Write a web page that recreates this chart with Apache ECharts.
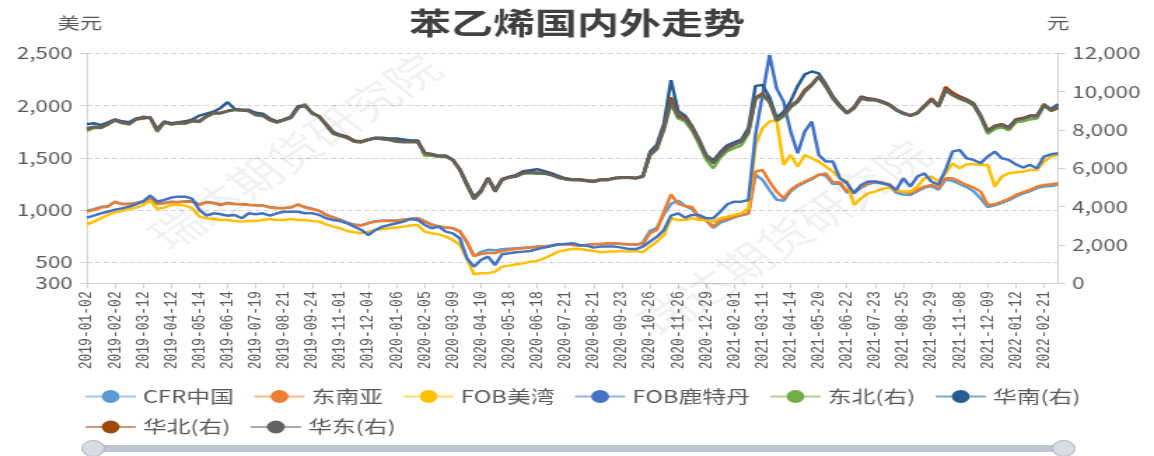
<!DOCTYPE html>
<html>
<head>
<meta charset="utf-8">
<script src="https://cdn.jsdelivr.net/npm/echarts@6.0.0/dist/echarts.min.js"></script>
<style>
    html, body {margin: 0; padding: 0; overflow: hidden; background: #fff;}
    /* the reference picture is stretched sideways, so draw narrow and widen */
    #chart {width: 824px; height: 456px; transform: scaleX(1.4005); transform-origin: 0 0;}
</style>
</head>
<body>
<div id="chart"></div>
<script>
const dates = [
    '2019-01-02', '2019-01-09', '2019-01-16', '2019-01-24', '2019-02-02', '2019-02-19', '2019-02-26', '2019-03-05',
    '2019-03-12', '2019-03-19', '2019-03-27', '2019-04-04', '2019-04-12', '2019-04-19', '2019-04-26', '2019-05-07',
    '2019-05-14', '2019-05-21', '2019-05-29', '2019-06-06', '2019-06-14', '2019-06-24', '2019-07-03', '2019-07-11',
    '2019-07-19', '2019-07-29', '2019-08-06', '2019-08-13', '2019-08-21', '2019-08-29', '2019-09-06', '2019-09-16',
    '2019-09-24', '2019-10-10', '2019-10-17', '2019-10-25', '2019-11-01', '2019-11-11', '2019-11-19', '2019-11-27',
    '2019-12-04', '2019-12-12', '2019-12-20', '2019-12-30', '2020-01-06', '2020-01-14', '2020-01-21', '2020-01-29',
    '2020-02-05', '2020-02-13', '2020-02-21', '2020-03-02', '2020-03-09', '2020-03-17', '2020-03-25', '2020-04-02',
    '2020-04-10', '2020-04-20', '2020-04-28', '2020-05-08', '2020-05-18', '2020-05-26', '2020-06-03', '2020-06-11',
    '2020-06-18', '2020-06-29', '2020-07-07', '2020-07-14', '2020-07-21', '2020-07-29', '2020-08-06', '2020-08-13',
    '2020-08-21', '2020-08-31', '2020-09-08', '2020-09-15', '2020-09-23', '2020-10-09', '2020-10-15', '2020-10-20',
    '2020-10-26', '2020-11-03', '2020-11-11', '2020-11-18', '2020-11-26', '2020-12-04', '2020-12-14', '2020-12-21',
    '2020-12-29', '2021-01-07', '2021-01-15', '2021-01-25', '2021-02-01', '2021-02-09', '2021-02-22', '2021-03-02',
    '2021-03-11', '2021-03-19', '2021-03-29', '2021-04-06', '2021-04-14', '2021-04-22', '2021-04-30', '2021-05-12',
    '2021-05-20', '2021-05-28', '2021-06-07', '2021-06-15', '2021-06-22', '2021-06-30', '2021-07-08', '2021-07-15',
    '2021-07-23', '2021-08-02', '2021-08-10', '2021-08-17', '2021-08-25', '2021-09-02', '2021-09-10', '2021-09-22',
    '2021-09-29', '2021-10-13', '2021-10-21', '2021-10-29', '2021-11-08', '2021-11-16', '2021-11-24', '2021-12-02',
    '2021-12-09', '2021-12-17', '2021-12-27', '2022-01-05', '2022-01-12', '2022-01-20', '2022-01-28', '2022-02-11',
    '2022-02-21', '2022-02-25', '2022-03-03'
];

// 美元/吨 (left axis)
const cfrChina = [
    995, 1010, 1030, 1040, 1075, 1060, 1062, 1070, 1085, 1100,
    1060, 1070, 1080, 1078, 1085, 1085, 1055, 1078, 1070, 1055,
    1070, 1060, 1058, 1052, 1048, 1045, 1030, 1022, 1020, 1028,
    1050, 1030, 1015, 995, 958, 932, 910, 880, 862, 856,
    878, 893, 900, 900, 900, 910, 918, 925, 895, 862,
    845, 835, 828, 800, 690, 560, 600, 620, 615, 625,
    630, 635, 640, 645, 652, 655, 662, 672, 675, 670,
    662, 668, 675, 675, 680, 680, 676, 670, 668, 690,
    800, 830, 960, 1060, 1090, 1040, 1010, 930, 900, 830,
    880, 905, 930, 950, 965, 1340, 1290, 1190, 1100, 1090,
    1180, 1230, 1265, 1295, 1340, 1330, 1250, 1255, 1170, 1165,
    1215, 1250, 1265, 1255, 1235, 1165, 1150, 1145, 1180, 1215,
    1230, 1195, 1290, 1280, 1250, 1220, 1180, 1110, 1030, 1045,
    1070, 1095, 1130, 1160, 1180, 1210, 1225, 1230, 1245
];
const southeastAsia = [
    985, 1001, 1024, 1033, 1081, 1056, 1056, 1065, 1081, 1107,
    1056, 1065, 1075, 1075, 1081, 1081, 1049, 1075, 1065, 1049,
    1065, 1056, 1056, 1049, 1043, 1043, 1024, 1017, 1017, 1024,
    1056, 1024, 1011, 992, 954, 928, 906, 874, 858, 852,
    874, 890, 896, 896, 896, 906, 915, 922, 890, 858,
    842, 833, 826, 794, 699, 560, 580, 590, 590, 609,
    619, 628, 635, 641, 651, 651, 660, 673, 673, 667,
    660, 667, 673, 673, 683, 683, 679, 673, 673, 673,
    778, 810, 986, 1150, 1060, 1040, 1030, 930, 906, 842,
    906, 915, 938, 954, 970, 1368, 1384, 1273, 1177, 1113,
    1193, 1241, 1273, 1305, 1336, 1352, 1266, 1266, 1177, 1177,
    1225, 1257, 1273, 1266, 1247, 1177, 1177, 1161, 1193, 1225,
    1241, 1209, 1305, 1305, 1273, 1241, 1215, 1177, 1049, 1056,
    1081, 1107, 1145, 1171, 1193, 1225, 1241, 1247, 1257
];
const fobUsGulf = [
    864, 890, 922, 954, 979, 992, 1011, 1024, 1049, 1090,
    1011, 1024, 1049, 1049, 1043, 1017, 938, 922, 915, 906,
    906, 896, 890, 896, 896, 906, 915, 906, 906, 915,
    906, 906, 896, 890, 864, 842, 826, 801, 788, 778,
    794, 810, 820, 826, 833, 842, 852, 858, 794, 778,
    769, 746, 715, 667, 539, 386, 396, 396, 412, 459,
    469, 482, 491, 507, 514, 539, 571, 603, 619, 628,
    628, 619, 609, 597, 603, 603, 609, 603, 609, 597,
    651, 699, 762, 922, 906, 906, 922, 906, 906, 890,
    922, 938, 954, 970, 1017, 1623, 1783, 1847, 1862, 1432,
    1528, 1416, 1528, 1496, 1464, 1416, 1368, 1305, 1273, 1049,
    1113, 1161, 1177, 1202, 1215, 1193, 1177, 1177, 1225, 1305,
    1320, 1273, 1352, 1448, 1400, 1438, 1438, 1432, 1432, 1225,
    1320, 1352, 1362, 1368, 1384, 1384, 1464, 1512, 1528
];
const fobRotterdam = [
    928, 947, 970, 985, 1005, 1017, 1033, 1056, 1081, 1140,
    1081, 1097, 1120, 1129, 1129, 1107, 1001, 947, 970, 960,
    947, 954, 922, 970, 960, 970, 947, 970, 985, 985,
    985, 970, 970, 954, 922, 906, 896, 874, 842, 810,
    762, 810, 842, 858, 874, 890, 915, 906, 858, 826,
    842, 794, 778, 730, 539, 459, 523, 555, 475, 577,
    587, 597, 603, 609, 628, 641, 657, 673, 676, 683,
    667, 660, 641, 651, 651, 651, 641, 628, 628, 651,
    699, 746, 810, 947, 970, 928, 954, 954, 922, 922,
    985, 1056, 1081, 1081, 1097, 1719, 2102, 2484, 2165, 2038,
    1751, 1544, 1751, 1847, 1528, 1464, 1464, 1305, 1257, 1161,
    1241, 1273, 1273, 1257, 1241, 1193, 1305, 1225, 1320, 1352,
    1273, 1241, 1384, 1560, 1576, 1496, 1480, 1448, 1512, 1560,
    1496, 1480, 1438, 1407, 1432, 1400, 1512, 1534, 1544
];

// 元/吨 (right axis)
const dongbei = [
    7950, 8100, 8100, 8280, 8500, 8380, 8280, 8560, 8700, 8620,
    7900, 8380, 8280, 8330, 8330, 8450, 8420, 8680, 8850, 8860,
    8980, 9050, 9030, 8980, 8770, 8730, 8500, 8380, 8500, 8620,
    9200, 9350, 8850, 8680, 8240, 7800, 7680, 7580, 7380, 7350,
    7470, 7560, 7520, 7470, 7380, 7400, 7400, 7450, 6650, 6650,
    6600, 6600, 6420, 5900, 5100, 4380, 4760, 5460, 4770, 5380,
    5560, 5560, 5720, 5750, 5720, 5720, 5640, 5500, 5420, 5380,
    5380, 5330, 5290, 5380, 5380, 5470, 5500, 5500, 5470, 5560,
    6650, 6980, 8000, 9350, 8600, 8450, 7950, 7250, 6450, 6000,
    6550, 6900, 7050, 7200, 7800, 9600, 9800, 9450, 8450, 8700,
    9180, 9450, 9980, 10320, 10760, 10240, 9630, 9200, 8850, 9110,
    9630, 9550, 9550, 9420, 9280, 9020, 8850, 8730, 8850, 9200,
    9550, 9200, 10050, 9800, 9620, 9480, 9270, 8650, 7800, 8050,
    8150, 7980, 8400, 8450, 8550, 8600, 9250, 9000, 9150
];
const huanan = [
    8300, 8350, 8250, 8400, 8550, 8450, 8400, 8600, 8650, 8650,
    8050, 8450, 8350, 8400, 8450, 8550, 8750, 8850, 8950, 9150,
    9450, 9100, 9050, 9050, 8900, 8850, 8600, 8450, 8550, 8700,
    9250, 9250, 8900, 8700, 8300, 7900, 7750, 7650, 7450, 7400,
    7500, 7600, 7600, 7550, 7550, 7500, 7450, 7450, 6800, 6750,
    6650, 6650, 6450, 5950, 5200, 4500, 4850, 5500, 4850, 5450,
    5550, 5650, 5850, 5900, 5950, 5850, 5750, 5600, 5480, 5420,
    5420, 5380, 5340, 5420, 5420, 5500, 5530, 5530, 5500, 5600,
    6850, 7250, 8350, 10600, 9000, 8750, 8200, 7500, 6700, 6400,
    6850, 7200, 7350, 7500, 8100, 10300, 10350, 9700, 8650, 8950,
    9500, 10300, 10900, 11050, 10950, 10400, 9750, 9300, 8900, 9200,
    9750, 9650, 9600, 9500, 9350, 9050, 8850, 8750, 8900, 9250,
    9600, 9250, 10050, 9900, 9750, 9600, 9400, 8750, 7950, 8200,
    8300, 8150, 8550, 8600, 8750, 8750, 9300, 9100, 9350
];
const huabei = [
    8050, 8150, 8150, 8320, 8500, 8350, 8350, 8550, 8600, 8650,
    8000, 8420, 8330, 8380, 8400, 8500, 8480, 8720, 8900, 8900,
    9000, 9060, 9020, 9000, 8800, 8760, 8550, 8420, 8540, 8660,
    9200, 9250, 8900, 8720, 8300, 7880, 7720, 7650, 7420, 7400,
    7520, 7580, 7550, 7500, 7420, 7380, 7380, 7380, 6820, 6720,
    6650, 6650, 6450, 5950, 5180, 4450, 4820, 5500, 4850, 5420,
    5550, 5600, 5780, 5800, 5780, 5760, 5680, 5530, 5450, 5420,
    5420, 5360, 5330, 5420, 5420, 5500, 5530, 5530, 5500, 5590,
    6750, 7100, 8150, 9700, 8800, 8650, 8150, 7450, 6650, 6300,
    6750, 7100, 7250, 7420, 7950, 9700, 9900, 9500, 8550, 8800,
    9250, 9550, 10100, 10400, 10800, 10300, 9700, 9250, 8900, 9180,
    9700, 9620, 9600, 9480, 9330, 9070, 8900, 8780, 8900, 9260,
    9650, 9280, 10250, 9950, 9750, 9580, 9350, 8750, 7980, 8220,
    8300, 8120, 8560, 8620, 8740, 8760, 9350, 9000, 9150
];
const huadong = [
    8090, 8170, 8120, 8300, 8520, 8400, 8300, 8570, 8640, 8640,
    7950, 8400, 8300, 8350, 8350, 8470, 8430, 8700, 8870, 8870,
    8990, 9040, 9040, 8990, 8780, 8750, 8520, 8400, 8520, 8640,
    9130, 9300, 8870, 8700, 8260, 7830, 7700, 7600, 7390, 7360,
    7480, 7570, 7530, 7480, 7390, 7360, 7360, 7360, 6780, 6700,
    6610, 6610, 6430, 5910, 5130, 4400, 4780, 5480, 4780, 5390,
    5510, 5570, 5740, 5770, 5740, 5740, 5650, 5510, 5430, 5390,
    5390, 5340, 5300, 5390, 5390, 5480, 5510, 5510, 5480, 5570,
    6700, 7040, 8090, 9500, 8700, 8570, 8090, 7390, 6610, 6260,
    6700, 7040, 7220, 7390, 7910, 9650, 9830, 9480, 8520, 8780,
    9220, 9480, 10000, 10350, 10780, 10260, 9650, 9220, 8870, 9130,
    9650, 9570, 9570, 9440, 9300, 9040, 8870, 8750, 8870, 9220,
    9570, 9220, 10090, 9830, 9650, 9510, 9300, 8700, 7910, 8170,
    8260, 8090, 8520, 8570, 8700, 8700, 9300, 9040, 9220
];

const seriesNames = ['CFR中国', '东南亚', 'FOB美湾', 'FOB鹿特丹', '东北(右)', '华南(右)', '华北(右)', '华东(右)'];
const seriesData = [cfrChina, southeastAsia, fobUsGulf, fobRotterdam, dongbei, huanan, huabei, huadong];
const colors = ['#5B9BD5', '#ED7D31', '#FFC000', '#4472C4', '#70AD47', '#255E91', '#9E480E', '#636363'];

const font = "'Noto Sans CJK SC', 'Noto Sans', sans-serif";
const textColor = '#595959';

let series = seriesNames.map((name, i) => ({
    type: 'line',
    name: name,
    yAxisIndex: i < 4 ? 0 : 1,
    data: seriesData[i],
    symbol: 'circle',
    showSymbol: false,
    lineStyle: {width: 2.5, color: colors[i]},
    itemStyle: {color: colors[i]}
}));

let option = {
    animation: false,
    color: colors,
    title: {
        text: '苯乙烯国内外走势',
        left: 'center',
        top: 3,
        textStyle: {fontFamily: font, fontSize: 30, fontWeight: 'bold', color: '#404040'}
    },
    grid: {left: 62, right: 68.5, top: 53.3, bottom: 172.7},
    legend: {
        data: seriesNames,
        left: 55,
        top: 383,
        width: 740,
        itemWidth: 36,
        itemHeight: 16,
        itemGap: 13.5,
        lineStyle: {opacity: 0.55},
        textStyle: {fontFamily: font, fontSize: 17, color: textColor, lineHeight: 16}
    },
    xAxis: {
        type: 'category',
        data: dates,
        boundaryGap: false,
        axisLine: {lineStyle: {color: '#d0d0d0'}},
        axisTick: {interval: 3, lineStyle: {color: '#d0d0d0'}},
        axisLabel: {
            interval: 3,
            rotate: 90,
            margin: 8,
            fontFamily: "'Liberation Mono', monospace",
            fontSize: 13,
            color: textColor
        }
    },
    yAxis: [
        {
            type: 'value',
            name: '美元',
            min: 300,
            max: 2500,
            splitNumber: 5,
            nameGap: 22,
            nameTextStyle: {fontFamily: font, fontSize: 16, color: textColor, padding: [0, 10, 0, 0]},
            axisLine: {show: true, lineStyle: {color: '#d0d0d0'}},
            axisTick: {show: true, lineStyle: {color: '#d0d0d0'}},
            axisLabel: {fontFamily: font, fontSize: 16, color: textColor, margin: 10},
            splitLine: {lineStyle: {type: 'dashed', color: '#d6d6d6'}}
        },
        {
            type: 'value',
            name: '元',
            position: 'right',
            min: 0,
            max: 12000,
            interval: 2000,
            nameGap: 22,
            nameTextStyle: {fontFamily: font, fontSize: 16, color: textColor},
            axisLine: {show: true, lineStyle: {color: '#d0d0d0'}},
            axisTick: {show: true, lineStyle: {color: '#d0d0d0'}},
            axisLabel: {fontFamily: font, fontSize: 16, color: textColor, margin: 10},
            splitLine: {show: false}
        }
    ],
    dataZoom: [{
        type: 'slider',
        xAxisIndex: 0,
        start: 0,
        end: 100,
        left: 64,
        right: 65,
        bottom: 4,
        height: 7,
        showDetail: false,
        showDataShadow: false,
        brushSelect: false,
        moveHandleSize: 0,
        borderColor: 'transparent',
        backgroundColor: 'rgba(200,206,216,0.5)',
        fillerColor: 'rgba(165,176,196,0.6)',
        handleIcon: 'circle',
        handleSize: 16,
        handleStyle: {color: '#d8dce3', borderColor: '#aab2c0'}
    }],
    graphic: [
        {
            type: 'text', x: 210, y: 152, rotation: 0.74, z: 100, silent: true,
            style: {text: '瑞达期货研究院', x: 0, y: 0, align: 'center', verticalAlign: 'middle',
                font: "38px 'Noto Sans CJK SC'", fill: 'rgba(0,0,0,0.06)'}
        },
        {
            type: 'text', x: 560, y: 238, rotation: 0.74, z: 100, silent: true,
            style: {text: '瑞达期货研究院', x: 0, y: 0, align: 'center', verticalAlign: 'middle',
                font: "38px 'Noto Sans CJK SC'", fill: 'rgba(0,0,0,0.06)'}
        }
    ],
    series: series
};

echarts.init(document.getElementById('chart')).setOption(option);
</script>
</body>
</html>
